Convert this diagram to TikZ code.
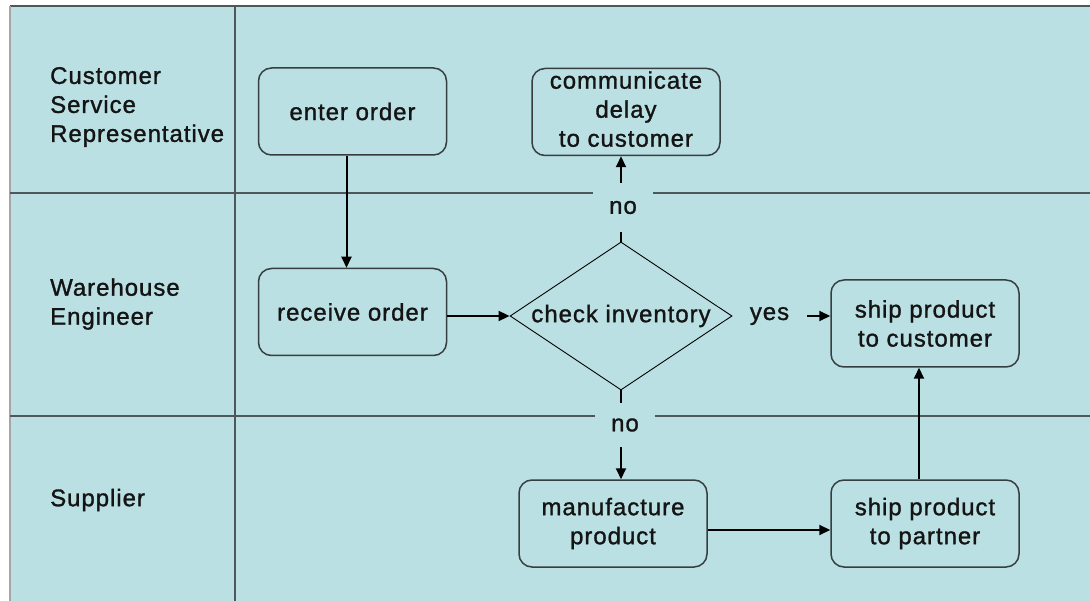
\documentclass[tikz,border=0pt]{standalone}
\usepackage{fontspec}
\setmainfont[LetterSpace=4,FakeBold=1.2]{Liberation Sans}
\usetikzlibrary{shapes.geometric,arrows.meta}
\definecolor{lanebg}{RGB}{186,224,227}
\definecolor{laneline}{RGB}{78,88,90}
\definecolor{boxline}{RGB}{55,62,64}
\definecolor{txt}{RGB}{20,20,20}
\begin{document}
\begin{tikzpicture}[x=1pt,y=-1pt,
  font=\fontsize{24}{29}\selectfont,
  every node/.style={text=txt},
  box/.style={draw=boxline, line width=1.5pt, rounded corners=13pt, minimum width=188pt, minimum height=87pt, align=center, inner sep=0pt, fill=lanebg},
  dec/.style={draw=black, line width=0.9pt, diamond, aspect=1.5, minimum width=222pt, minimum height=148pt, inner sep=0pt},
  lbl/.style={fill=lanebg, inner sep=0pt},
  arr/.style={-{Triangle[length=11pt,width=10pt]}, line width=2pt, black},
  plain/.style={line width=2pt, black},
  lanelabel/.style={anchor=west, align=left, inner sep=0pt}]
\useasboundingbox (0,0) rectangle (1090,601);
\fill[lanebg] (10,6) rectangle (1090,601);
\draw[laneline, line width=2pt] (10,6) -- (1090,6);
\draw[gray!70, line width=1.5pt] (10,6) -- (10,601);
\draw[laneline, line width=1.6pt] (235,6) -- (235,601);
\draw[laneline, line width=1.6pt] (10,193) -- (1090,193);
\draw[laneline, line width=1.6pt] (10,416) -- (1090,416);

\node[lanelabel] (l1) at (50,107) {Customer\\Service\\Representative};
\node[lanelabel] (l2) at (50,304) {Warehouse\\Engineer};
\node[lanelabel] (l3) at (50,500) {Supplier};

\node[box] (enter) at (352.5,111.5) {enter order};
\node[box] (recv) at (352.5,312) {receive order};
\node[box, text depth=6pt] (comm) at (626,112) {communicate\\delay\\to customer};
\node[box] (cust) at (925,323.5) {ship product\\to customer};
\node[box] (part) at (925,523.5) {ship product\\to partner};
\node[box] (manu) at (613,523.5) {manufacture\\product};
\node[dec] (chk) at (621,316) {check inventory};
\node[lbl, minimum width=60pt, minimum height=49pt] (no1) at (623,207.5) {no};
\node[lbl, minimum width=60pt, minimum height=44pt] (no2) at (625,425) {no};
\node[inner sep=0pt, minimum width=75pt] (yes) at (769.5,316) {yes};

\draw[arr] ([xshift=-6pt]enter.south) -- ([xshift=-6pt]enter.south |- recv.north);
\draw[arr] (recv.east |- chk.west) -- (chk.west);
\draw[plain] (chk.north) -- (chk.north |- no1.south);
\draw[arr] (chk.north |- no1.north) -- (chk.north |- comm.south);
\draw[plain] (chk.south) -- (chk.south |- no2.north);
\draw[arr] (chk.south |- no2.south) -- (chk.south |- manu.north);
\draw[arr] (yes.east) -- (yes.east -| cust.west);
\draw[arr] ([yshift=-6.5pt]manu.east) -- ([yshift=-6.5pt]manu.east -| part.west);
\draw[arr] ([xshift=-6pt]part.north) -- ([xshift=-6pt]part.north |- cust.south);
\end{tikzpicture}
\end{document}
